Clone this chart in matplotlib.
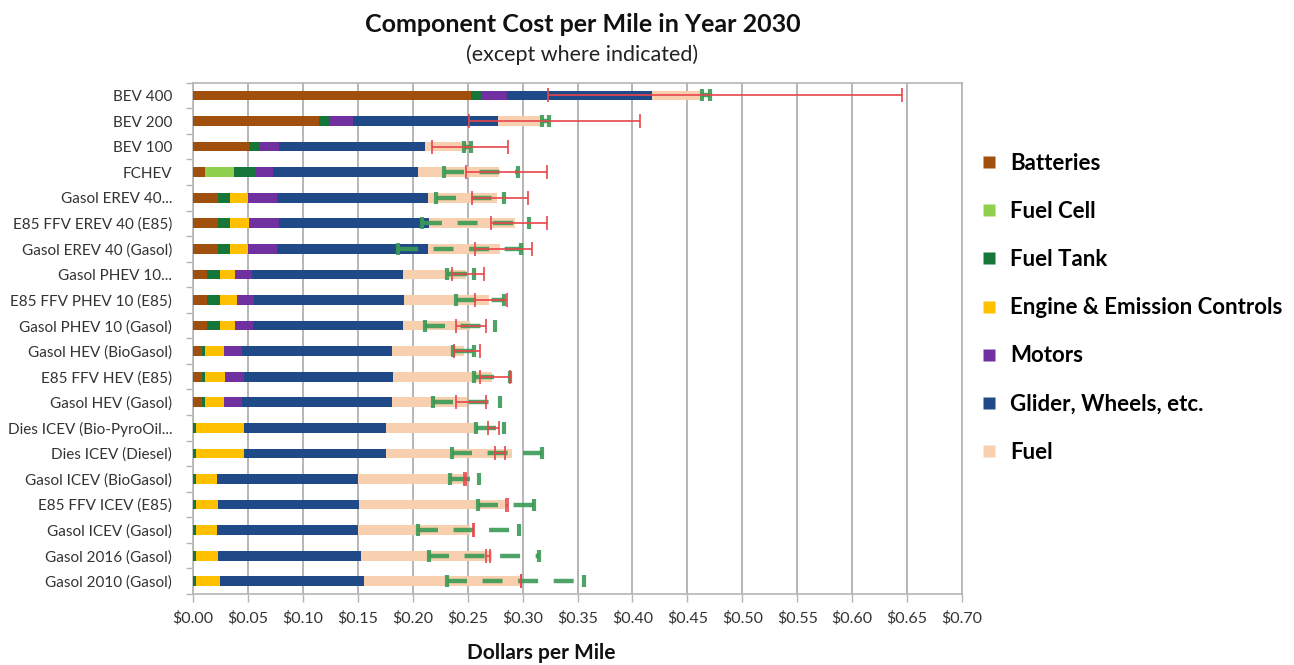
import matplotlib
matplotlib.use("Agg")
import matplotlib.pyplot as plt
import numpy as np
from matplotlib.ticker import FuncFormatter, MultipleLocator
from matplotlib.lines import Line2D

plt.rcParams['font.family'] = ['Lato', 'DejaVu Sans']

categories = ["BEV 400", "BEV 200", "BEV 100", "FCHEV", "Gasol EREV 40...",
              "E85 FFV EREV 40 (E85)", "Gasol EREV 40 (Gasol)", "Gasol PHEV 10...",
              "E85 FFV PHEV 10 (E85)", "Gasol PHEV 10 (Gasol)", "Gasol HEV (BioGasol)",
              "E85 FFV HEV (E85)", "Gasol HEV (Gasol)", "Dies ICEV (Bio-PyroOil...",
              "Dies ICEV (Diesel)", "Gasol ICEV (BioGasol)", "E85 FFV ICEV (E85)",
              "Gasol ICEV (Gasol)", "Gasol 2016 (Gasol)", "Gasol 2010 (Gasol)"]

batteries = [0.2532, 0.1150, 0.0513, 0.0112, 0.0224, 0.0224, 0.0224, 0.0127, 0.0127, 0.0127,
             0.0082, 0.0082, 0.0082, 0, 0, 0, 0, 0, 0, 0]
fuel_cell = [0, 0, 0, 0.0264, 0, 0, 0, 0, 0, 0, 0, 0, 0, 0, 0, 0, 0, 0, 0, 0]
fuel_tank = [0.0094, 0.0085, 0.0091, 0.0201, 0.0116, 0.0116, 0.0116, 0.0116, 0.0116, 0.0116,
             0.0030, 0.0030, 0.0030, 0.0027, 0.0027, 0.0027, 0.0027, 0.0027, 0.0027, 0.0027]
engine = [0, 0, 0, 0, 0.0161, 0.0167, 0.0161, 0.0142, 0.0157, 0.0142,
          0.0167, 0.0182, 0.0167, 0.0434, 0.0434, 0.0192, 0.0197, 0.0192, 0.0201, 0.0215]
motors = [0.0234, 0.0219, 0.0179, 0.0148, 0.0267, 0.0273, 0.0267, 0.0155, 0.0152, 0.0161,
          0.0167, 0.0167, 0.0167, 0, 0, 0, 0, 0, 0, 0]
glider = [0.1320, 0.1320, 0.1330, 0.1324, 0.1369, 0.1369, 0.1369, 0.1369, 0.1366, 0.1363,
          0.1369, 0.1360, 0.1369, 0.1293, 0.1293, 0.1280, 0.1284, 0.1280, 0.1305, 0.1318]
fuel = [0.0456, 0.0404, 0.0388, 0.0735, 0.0633, 0.0786, 0.0656, 0.0580, 0.0772, 0.0616,
        0.0650, 0.0902, 0.0675, 0.0826, 0.1146, 0.0990, 0.1336, 0.1026, 0.1190, 0.1421]

green_lo = [0.4636, 0.3180, 0.2470, 0.2283, 0.2210, 0.2085, 0.1864, 0.2313, 0.2398, 0.2110,
            0.2368, 0.2556, 0.2182, 0.2580, 0.2362, 0.2337, 0.2596, 0.2049, 0.2146, 0.2313]
green_hi = [0.4710, 0.3240, 0.2530, 0.2956, 0.2835, 0.3057, 0.2987, 0.2556, 0.2835, 0.2753,
            0.2556, 0.2890, 0.2799, 0.2835, 0.3178, 0.2601, 0.3102, 0.2966, 0.3148, 0.3557]
red_lo = [0.3230, 0.2513, 0.2177, 0.2489, 0.2544, 0.2714, 0.2568, 0.2359, 0.2568, 0.2398,
          0.2380, 0.2610, 0.2398, 0.2683, 0.2753, 0.2471, 0.2853, 0.2545, 0.2671, 0.2985]
red_hi = [0.6457, 0.4065, 0.2869, 0.3218, 0.3051, 0.3224, 0.3087, 0.2647, 0.2860, 0.2665,
          0.2617, 0.2890, 0.2665, 0.2783, 0.2844, 0.2489, 0.2870, 0.2555, 0.2708, 0.2990]

series = [("Batteries", batteries, "#a0500c"),
          ("Fuel Cell", fuel_cell, "#8fd14f"),
          ("Fuel Tank", fuel_tank, "#16763a"),
          ("Engine & Emission Controls", engine, "#ffc000"),
          ("Motors", motors, "#7030a0"),
          ("Glider, Wheels, etc.", glider, "#1f4a87"),
          ("Fuel", fuel, "#f8d0b0")]

fig = plt.figure(figsize=(12.94, 6.65), dpi=100)
ax = fig.add_axes([193/1294, 1-594/665, (962-193)/1294, (594-82.7)/665])

y = np.arange(len(categories))
left = np.zeros(len(categories))
for name, vals, col in series:
    v = np.array(vals)
    ax.barh(y, v, left=left, height=0.38, color=col, edgecolor='none', zorder=3)
    left += v

glo = np.array(green_lo); ghi = np.array(green_hi)
gc = (glo + ghi) / 2; gw = (ghi - glo) / 2
eb = ax.errorbar(gc, y, xerr=gw, fmt='none', ecolor='#3a9a55', elinewidth=3.2,
                 capsize=4, capthick=3, zorder=4, alpha=0.9)
for lc in eb[2]:
    lc.set_linestyle((0, (4.5, 3.5)))

rlo = np.array(red_lo); rhi = np.array(red_hi)
rc = (rlo + rhi) / 2; rw = (rhi - rlo) / 2
ax.errorbar(rc, y, xerr=rw, fmt='none', ecolor='#e8454a', elinewidth=1.2,
            capsize=5, capthick=1.2, zorder=5)

ax.set_xlim(0, 0.70)
ax.set_ylim(len(categories) - 0.5, -0.5)
ax.xaxis.set_major_locator(MultipleLocator(0.05))
ax.xaxis.set_major_formatter(FuncFormatter(lambda v, p: "\\$%.2f" % v))
ax.grid(axis='x', color='#b5b5b5', linewidth=1.4, zorder=0)
ax.set_axisbelow(True)
for s in ax.spines.values():
    s.set_color('#b5b5b5')
    s.set_linewidth(1.2)

ax.set_yticks(y)
ax.set_yticklabels(categories, fontsize=11, color='#333333')
ax.set_yticks(np.arange(-0.5, len(categories) + 0.5, 1), minor=True)
ax.tick_params(axis='y', which='major', length=0, pad=15)
ax.tick_params(axis='y', which='minor', length=5, color='#b5b5b5', width=1)
ax.tick_params(axis='x', which='major', length=6, color='#b5b5b5', width=1,
               labelsize=11.5, labelcolor='#333333', pad=6)

fig.text(583/1294, 1-25/665, "Component Cost per Mile in Year 2030", ha='center', va='center',
         fontsize=18, fontweight='bold', color='#111111')
fig.text(582/1294, 1-55/665, "(except where indicated)", ha='center', va='center',
         fontsize=15.5, color='#222222')
fig.text(541/1294, 1-653/665, "Dollars per Mile", ha='center', va='center',
         fontsize=15, fontweight='bold', color='#111111')

handles = [Line2D([0], [0], marker='s', linestyle='none', markersize=8,
                  markerfacecolor=c, markeredgecolor='none') for _, _, c in series]
labels = [n for n, _, _ in series]
leg = fig.legend(handles, labels, loc='upper left', bbox_to_anchor=(958/1294, 1-133/665),
                 frameon=False, prop={'size': 16, 'weight': 'bold'},
                 labelspacing=1.22, handletextpad=0.45, handlelength=1.0)

fig.savefig("out.png", dpi=100)
